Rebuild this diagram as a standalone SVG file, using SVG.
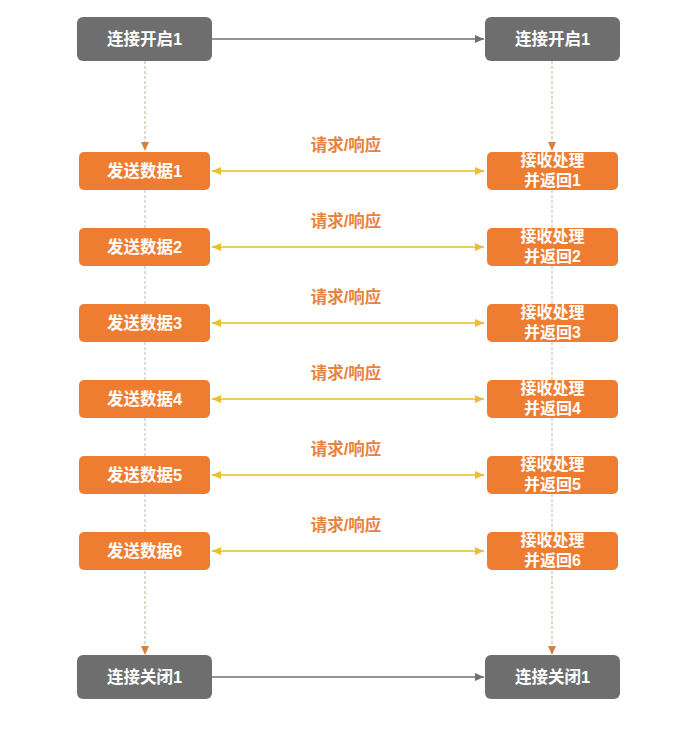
<svg xmlns="http://www.w3.org/2000/svg" width="700" height="731" viewBox="0 0 700 731">
<defs>
<style>
.gray{fill:#6e6e6e}
.org{fill:#ee7d31}
.t{font-family:"Liberation Sans","Noto Sans CJK SC",sans-serif;font-size:16.5px;font-weight:bold;fill:#ffffff;text-anchor:middle}
.t2{font-family:"Liberation Sans","Noto Sans CJK SC",sans-serif;font-size:16px;font-weight:bold;fill:#ffffff;text-anchor:middle}
.lbl{font-family:"Liberation Sans","Noto Sans CJK SC",sans-serif;font-size:16.5px;font-weight:bold;fill:#e8833f;text-anchor:middle}
.ga{stroke:#707070;stroke-width:1.5;fill:none}
.ya{stroke:#ecbd2c;stroke-width:1.5;fill:none}
.dv{stroke:#c9ab93;stroke-width:1;stroke-dasharray:3,2;fill:none}
.dg{stroke:#bbbbbb;stroke-width:1;stroke-dasharray:3,2;fill:none}
</style>
<marker id="mg" markerWidth="10" markerHeight="10" refX="9" refY="5" orient="auto" markerUnits="userSpaceOnUse"><path d="M0,1 L9,5 L0,9 Z" fill="#707070"/></marker>
<marker id="my" markerWidth="10" markerHeight="10" refX="9" refY="5" orient="auto-start-reverse" markerUnits="userSpaceOnUse"><path d="M0,1 L9,5 L0,9 Z" fill="#ecbd2c"/></marker>
<marker id="mo" markerWidth="10" markerHeight="10" refX="9" refY="5" orient="auto" markerUnits="userSpaceOnUse"><path d="M0,1 L9,5 L0,9 Z" fill="#d9803f"/></marker>
</defs>
<rect width="700" height="731" fill="#ffffff"/>
<g id="connectors">
<line class="ga" x1="212" y1="39" x2="484" y2="39" marker-end="url(#mg)"/>
<line class="ga" x1="212" y1="677" x2="484" y2="677" marker-end="url(#mg)"/>
<line class="dv" x1="145" y1="61" x2="145" y2="151" marker-end="url(#mo)"/>
<line class="dv" x1="552" y1="61" x2="552" y2="151" marker-end="url(#mo)"/>
<line class="dv" x1="145" y1="571" x2="145" y2="655" marker-end="url(#mo)"/>
<line class="dv" x1="552" y1="571" x2="552" y2="655" marker-end="url(#mo)"/>
<path class="dg" d="M145,190 V228 M145,266 V304 M145,342 V380 M145,418 V456 M145,494 V532 M552,190 V228 M552,266 V304 M552,342 V380 M552,418 V456 M552,494 V532"/>
<line class="ya" x1="212" y1="171" x2="484" y2="171" marker-start="url(#my)" marker-end="url(#my)"/>
<line class="ya" x1="212" y1="247" x2="484" y2="247" marker-start="url(#my)" marker-end="url(#my)"/>
<line class="ya" x1="212" y1="323" x2="484" y2="323" marker-start="url(#my)" marker-end="url(#my)"/>
<line class="ya" x1="212" y1="399" x2="484" y2="399" marker-start="url(#my)" marker-end="url(#my)"/>
<line class="ya" x1="212" y1="475" x2="484" y2="475" marker-start="url(#my)" marker-end="url(#my)"/>
<line class="ya" x1="212" y1="551" x2="484" y2="551" marker-start="url(#my)" marker-end="url(#my)"/>
<text class="lbl" x="346" y="151">请求/响应</text>
<text class="lbl" x="346" y="227">请求/响应</text>
<text class="lbl" x="346" y="303">请求/响应</text>
<text class="lbl" x="346" y="379">请求/响应</text>
<text class="lbl" x="346" y="455">请求/响应</text>
<text class="lbl" x="346" y="531">请求/响应</text>
</g>
<g id="open-left"><rect class="gray" x="77" y="17" width="135" height="44" rx="6"/><text class="t" x="144.5" y="45">连接开启1</text></g>
<g id="open-right"><rect class="gray" x="485" y="17" width="135" height="44" rx="6"/><text class="t" x="552.5" y="45">连接开启1</text></g>
<g id="send1"><rect class="org" x="79" y="152" width="131" height="38" rx="5"/><text class="t" x="144.5" y="177">发送数据1</text></g>
<g id="send2"><rect class="org" x="79" y="228" width="131" height="38" rx="5"/><text class="t" x="144.5" y="253">发送数据2</text></g>
<g id="send3"><rect class="org" x="79" y="304" width="131" height="38" rx="5"/><text class="t" x="144.5" y="329">发送数据3</text></g>
<g id="send4"><rect class="org" x="79" y="380" width="131" height="38" rx="5"/><text class="t" x="144.5" y="405">发送数据4</text></g>
<g id="send5"><rect class="org" x="79" y="456" width="131" height="38" rx="5"/><text class="t" x="144.5" y="481">发送数据5</text></g>
<g id="send6"><rect class="org" x="79" y="532" width="131" height="38" rx="5"/><text class="t" x="144.5" y="557">发送数据6</text></g>
<g id="recv1"><rect class="org" x="487" y="152" width="131" height="38" rx="5"/><text class="t2" x="552.5" y="166">接收处理</text><text class="t2" x="552.5" y="186">并返回1</text></g>
<g id="recv2"><rect class="org" x="487" y="228" width="131" height="38" rx="5"/><text class="t2" x="552.5" y="242">接收处理</text><text class="t2" x="552.5" y="262">并返回2</text></g>
<g id="recv3"><rect class="org" x="487" y="304" width="131" height="38" rx="5"/><text class="t2" x="552.5" y="318">接收处理</text><text class="t2" x="552.5" y="338">并返回3</text></g>
<g id="recv4"><rect class="org" x="487" y="380" width="131" height="38" rx="5"/><text class="t2" x="552.5" y="394">接收处理</text><text class="t2" x="552.5" y="414">并返回4</text></g>
<g id="recv5"><rect class="org" x="487" y="456" width="131" height="38" rx="5"/><text class="t2" x="552.5" y="470">接收处理</text><text class="t2" x="552.5" y="490">并返回5</text></g>
<g id="recv6"><rect class="org" x="487" y="532" width="131" height="38" rx="5"/><text class="t2" x="552.5" y="546">接收处理</text><text class="t2" x="552.5" y="566">并返回6</text></g>
<g id="close-left"><rect class="gray" x="77" y="655" width="135" height="44" rx="6"/><text class="t" x="144.5" y="683">连接关闭1</text></g>
<g id="close-right"><rect class="gray" x="485" y="655" width="135" height="44" rx="6"/><text class="t" x="552.5" y="683">连接关闭1</text></g>
</svg>
